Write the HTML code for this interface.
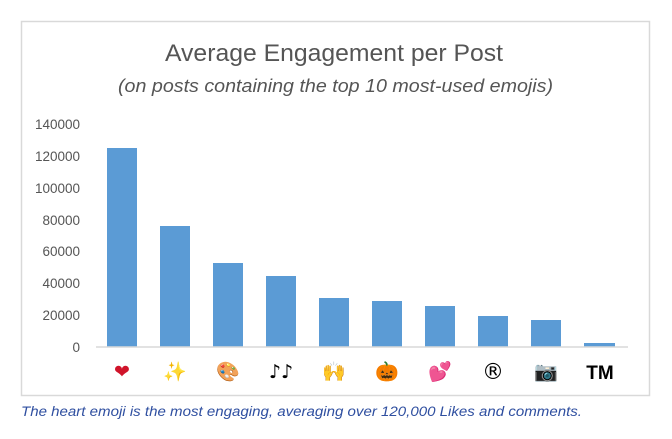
<!DOCTYPE html>
<html><head><meta charset="utf-8"><style>
body{margin:0;background:#fff;width:672px;height:434px;overflow:hidden;font-family:"Liberation Sans","DejaVu Sans",sans-serif}
</style></head><body>
<svg width="672" height="434" xmlns="http://www.w3.org/2000/svg">
<rect x="21.5" y="21.5" width="628" height="374" fill="#fff" stroke="#d9d9d9" stroke-width="1.5"/>
<text x="165" y="61" font-size="24" fill="#555" textLength="338" lengthAdjust="spacingAndGlyphs">Average Engagement per Post</text>
<text x="118" y="92" font-size="18" font-style="italic" fill="#555" textLength="435" lengthAdjust="spacingAndGlyphs">(on posts containing the top 10 most-used emojis)</text>
<g font-size="13.5" fill="#555" text-anchor="end">
<text x="80" y="129">140000</text>
<text x="80" y="161">120000</text>
<text x="80" y="193">100000</text>
<text x="80" y="225">80000</text>
<text x="80" y="256">60000</text>
<text x="80" y="288">40000</text>
<text x="80" y="320">20000</text>
<text x="80" y="352">0</text>
</g>
<g fill="#5b9bd5">
<rect x="107" y="148" width="30" height="199"/>
<rect x="160" y="226" width="30" height="121"/>
<rect x="213" y="263" width="30" height="84"/>
<rect x="266" y="276" width="30" height="71"/>
<rect x="319" y="298" width="30" height="49"/>
<rect x="372" y="301" width="30" height="46"/>
<rect x="425" y="306" width="30" height="41"/>
<rect x="478" y="316" width="30" height="31"/>
<rect x="531" y="320" width="30" height="27"/>
<rect x="584" y="343" width="31" height="4"/>
</g>
<line x1="96" y1="347" x2="628" y2="347" stroke="#d9d9d9" stroke-width="1.5"/>
<g font-size="19" text-anchor="middle" font-family="DejaVu Sans, sans-serif">
<text x="122" y="378" fill="#d0142a">❤</text>
<text x="175" y="378" fill="#f5c518">✨</text>
<text x="228" y="378" fill="#b08040">🎨</text>
<text x="281" y="378" fill="#000">♪♪</text>
<text x="334" y="378" fill="#f5b700">🙌</text>
<text x="387" y="378" fill="#e07010">🎃</text>
<text x="440" y="378" fill="#f060b0">💕</text>
<text x="493" y="379" fill="#000" font-size="22">®</text>
<text x="546" y="378" fill="#777">📷</text>
<text x="600" y="379" fill="#000" font-weight="bold" font-family="Liberation Sans, sans-serif">TM</text>
</g>
<text x="21" y="416" font-size="13.5" font-style="italic" fill="#2f4fa0" textLength="561" lengthAdjust="spacingAndGlyphs">The heart emoji is the most engaging, averaging over 120,000 Likes and comments.</text>
</svg>
</body></html>
